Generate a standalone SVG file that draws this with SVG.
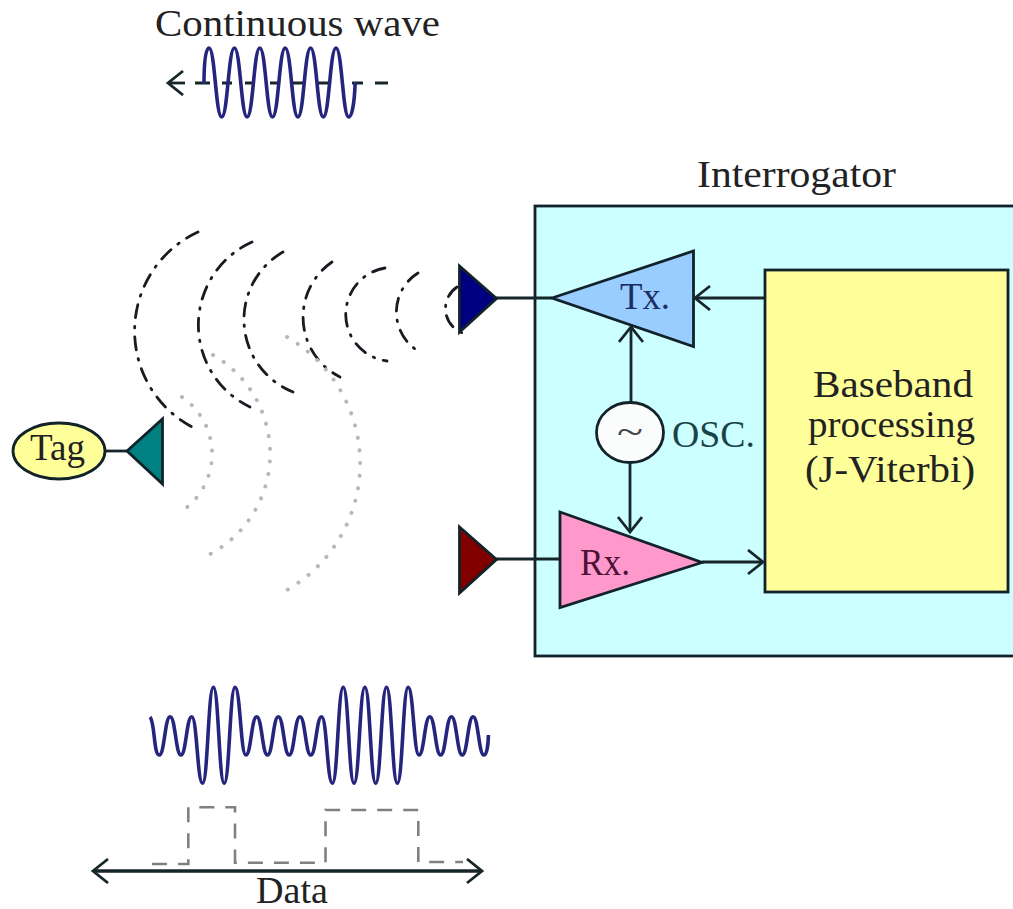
<svg xmlns="http://www.w3.org/2000/svg" width="1013" height="909" viewBox="0 0 1013 909">
<style>
text{font-family:"Liberation Serif","Times New Roman",serif;fill:#222;font-size:37px}
.shape{stroke:#12222a;stroke-width:2.8;stroke-linejoin:miter}
.wire{fill:none;stroke:#16262a;stroke-width:2.8}
.wave{fill:none;stroke:#25257d;stroke-width:3.6;stroke-linejoin:round}
.tx{fill:none;stroke:#1a1a22;stroke-width:2.8;stroke-dasharray:13 9 1.5 9;stroke-linecap:round}
.rx{fill:none;stroke:#b8b8b8;stroke-width:4;stroke-dasharray:.1 12.6;stroke-linecap:round}
.data{fill:none;stroke:#808080;stroke-width:2.6;stroke-dasharray:15 11}
</style>
<defs>
<marker id="open" markerUnits="userSpaceOnUse" markerWidth="24" markerHeight="30" refX="17" refY="13" orient="auto" viewBox="0 0 24 30"><path d="M2 1L17 13L2 25" fill="none" stroke="#16262a" stroke-width="2.8"/></marker>
</defs>
<rect width="1013" height="909" fill="#fff"/>

<g id="interrogator"><rect class="shape" x="535" y="206" width="482" height="450" fill="#ccffff"/>
<text x="697" y="187" textLength="199" lengthAdjust="spacingAndGlyphs">Interrogator</text></g>

<g id="arcs-transmitted">
<path class="tx" d="M198 232A109 109 0 0 0 192 427"/>
<path class="tx" d="M252 242A91 91 0 0 0 250 407"/>
<path class="tx" d="M283 252A78 78 0 0 0 293 392"/>
<path class="tx" d="M332 262A67 67 0 0 0 340 377"/>
<path class="tx" d="M385 268A47 47 0 0 0 387 361"/>
<path class="tx" d="M418 273A46 46 0 0 0 418 351"/>
<path class="tx" d="M457 287A26 26 0 0 0 466 334"/>
</g>
<g id="arcs-reflected">
<path class="rx" d="M182 397A69 69 0 0 1 186 508"/>
<path class="rx" d="M213 355A114 114 0 0 1 200 559"/>
<path class="rx" d="M287 337A146 146 0 0 1 287 590"/>
</g>

<g id="connectors">
<path class="wire" d="M105 451H127"/>
<path class="wire" d="M496 298H552"/>
<path class="wire" d="M496 559H560"/>
<path class="wire" d="M765 298H695" marker-end="url(#open)"/>
<path class="wire" d="M631 403V327" marker-end="url(#open)"/>
<path class="wire" d="M630 462V532" marker-end="url(#open)"/>
<path class="wire" d="M702 562H763" marker-end="url(#open)"/>
<path class="wire" d="M93 871H482" marker-end="url(#open)"/>
<path class="wire" d="M482 871H93" marker-end="url(#open)"/>
<path class="wire" d="M185 83H168" marker-end="url(#open)"/>
<path class="wire" d="M195 83H210M222 83H232M245 83H255M270 83H280M293 83H303M318 83H328M352 83H363M375 83H388"/>
</g>

<g id="tag"><ellipse class="shape" cx="59" cy="451" rx="46" ry="28" fill="#ffff99"/>
<text x="30" y="460" textLength="55" lengthAdjust="spacingAndGlyphs">Tag</text></g>
<g id="tag-antenna"><path class="shape" d="M127 451L162.500 419V484Z" fill="#008080"/></g>
<g id="tx-antenna"><path class="shape" d="M459.500 266L496.500 298.500L459.500 332Z" fill="#000080"/></g>
<g id="rx-antenna"><path class="shape" d="M459.500 527L496.500 559.500L459.500 593Z" fill="#800000"/></g>
<g id="tx"><path class="shape" d="M552 298L693.500 251V346.500Z" fill="#99ccff"/>
<text x="620" y="309" textLength="50" lengthAdjust="spacingAndGlyphs" style="fill:#1b2f66">Tx.</text></g>
<g id="rx"><path class="shape" d="M560 512L702 562.500L560 607.500Z" fill="#ff99cc"/>
<text x="580" y="575" textLength="50" lengthAdjust="spacingAndGlyphs" style="fill:#4a1238">Rx.</text></g>
<g id="osc"><ellipse class="shape" cx="630" cy="432.500" rx="33.500" ry="30" fill="#fbfdfd"/>
<text x="617" y="444" textLength="26" lengthAdjust="spacingAndGlyphs" style="font-size:36px;fill:#444">~</text>
<text x="672" y="447" textLength="83" lengthAdjust="spacingAndGlyphs" style="fill:#1a4248">OSC.</text></g>
<g id="baseband"><rect class="shape" x="765" y="270" width="243" height="322" fill="#ffff99"/>
<text x="813" y="397" textLength="160" lengthAdjust="spacingAndGlyphs">Baseband</text>
<text x="808" y="437" textLength="167" lengthAdjust="spacingAndGlyphs">processing</text>
<text x="805" y="482" textLength="170" lengthAdjust="spacingAndGlyphs">(J-Viterbi)</text></g>

<g id="continuous-wave">
<text x="155" y="36" textLength="285" lengthAdjust="spacingAndGlyphs">Continuous wave</text>
<path class="wave" d="M204 84C204 66 205 48 209 48c6 0 6.700 69 12.700 69c6 0 6.700-69 12.700-69c6 0 6.700 69 12.700 69c6 0 6.700-69 12.700-69c6 0 6.700 69 12.700 69c6 0 6.700-69 12.700-69c6 0 6.700 69 12.700 69c6 0 6.700-69 12.700-69c6 0 6.700 69 12.700 69c6 0 6.700-69 12.700-69c6 0 6.700 69 12.700 69c4 0 6-20 6.500-35"/>
</g>

<g id="backscatter-wave">
<path class="wave" d="M150 717C155 722 153.500 755 159.300 755c5.200 0 5.620-38.300 10.820-38.300c5.200 0 5.620 38.300 10.820 38.300c5.200 0 5.620-38.300 10.820-38.300c5.200 0 5.620 66.600 10.820 66.600c5.200 0 5.620-96 10.820-96c5.200 0 5.620 96 10.820 96c5.200 0 5.620-96 10.820-96c5.200 0 5.620 67.700 10.820 67.700c5.200 0 5.620-38.300 10.820-38.300c5.200 0 5.620 38.300 10.820 38.300c5.200 0 5.620-38.300 10.820-38.300c5.200 0 5.620 38.300 10.820 38.300c5.200 0 5.620-38.300 10.820-38.300c5.200 0 5.620 38.300 10.820 38.300c5.200 0 5.620-38.300 10.820-38.300c5.200 0 5.620 66.600 10.820 66.600c5.200 0 5.620-96 10.820-96c5.200 0 5.620 96 10.820 96c5.200 0 5.620-96 10.820-96c5.200 0 5.620 96 10.820 96c5.200 0 5.620-96 10.820-96c5.200 0 5.620 96 10.820 96c5.200 0 5.620-96 10.820-96c5.200 0 5.620 67.700 10.820 67.700c5.200 0 5.620-38.300 10.820-38.300c5.200 0 5.620 38.300 10.820 38.300c5.200 0 5.620-38.300 10.820-38.300c5.200 0 5.620 38.300 10.820 38.300c5.200 0 5.620-38.300 10.820-38.300c5.200 0 5.620 38.300 10.820 38.300c3 0 4.300-10 4.500-20"/>
</g>

<g id="data-signal">
<path class="data" d="M152 864H188.300V807.300H235V862.700H325.500V810H418.300V862H463"/>
<text x="256" y="903" textLength="72" lengthAdjust="spacingAndGlyphs">Data</text>
</g>
</svg>
